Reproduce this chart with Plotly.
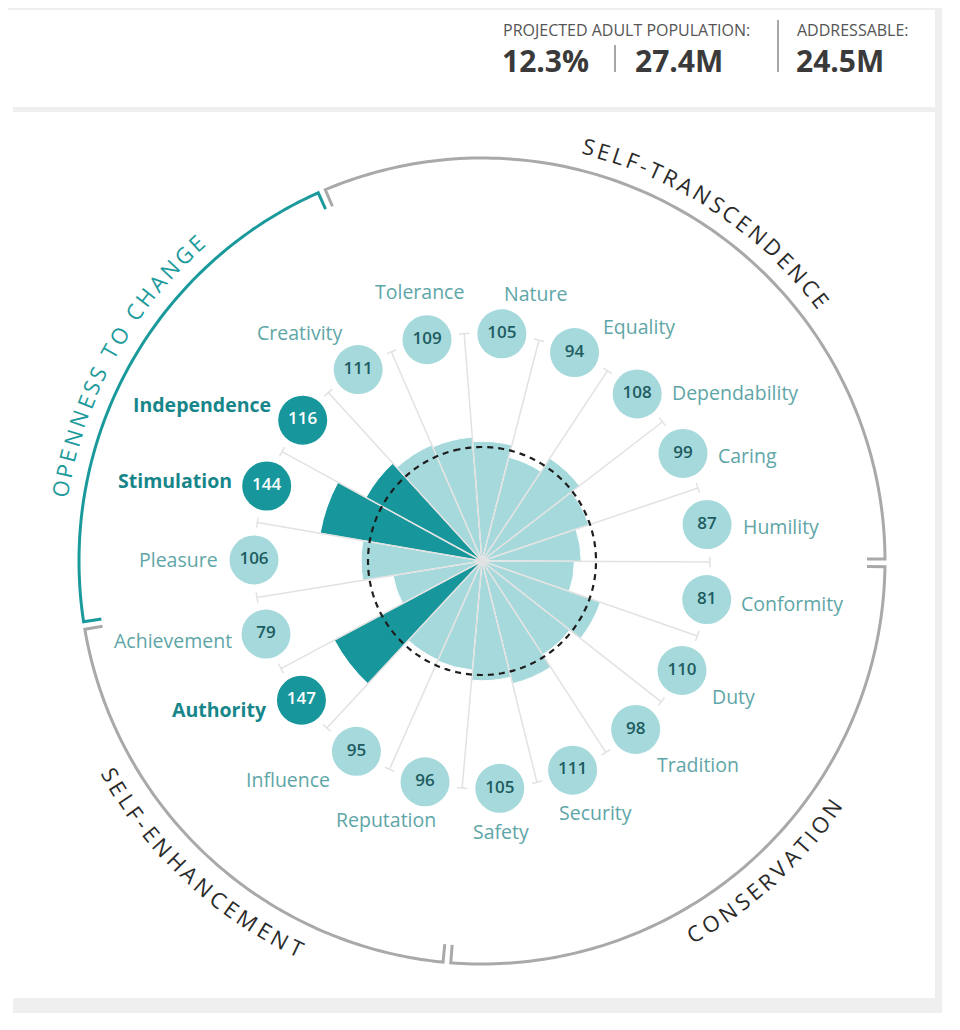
import math
import plotly.graph_objects as go

# values, clockwise starting at Tolerance
categories = ["Tolerance", "Nature", "Equality", "Dependability", "Caring", "Humility",
              "Conformity", "Duty", "Tradition", "Security", "Safety",
              "Reputation", "Influence", "Authority", "Achievement",
              "Pleasure", "Stimulation", "Independence", "Creativity"]
scores = [109, 105, 94, 108, 99, 87, 81, 110, 98, 111, 105, 96, 95, 147, 79, 106, 144, 116, 111]
highlighted = ["Authority", "Stimulation", "Independence"]
group_names = ["SELF-TRANSCENDENCE", "CONSERVATION", "SELF-ENHANCEMENT", "OPENNESS TO CHANGE"]
group_sizes = [6, 5, 4, 4]
accent_group = "OPENNESS TO CHANGE"
baseline = 100
stat_labels = ["PROJECTED ADULT POPULATION:", "ADDRESSABLE:"]
stat_values = ["12.3%", "27.4M", "24.5M"]

# colours
LIGHT = "#a6d9dc"
DARK = "#17979b"
ACCENT = "#1b9a9c"
ARC_GRAY = "#a9a9a9"

# geometry (pixels); the page body adds an 8px margin, so the figure is 16px smaller
OFF = 8
W, H = 960 - 2 * OFF, 1030 - 2 * OFF
CX, CY = 482 - OFF, 561 - OFF
RPX = 440
PX = 1.14                 # pixels per score point
RMAX = RPX / PX
n = len(categories)
step = 360 / n
START = -13.95            # screen angle of the first category, clockwise from north
R_BUBBLE = 200
R_ARC = 403 / PX
R_TICK = R_ARC - 18 / PX
R_TEXT = 428 / PX

# where each label sits next to its bubble: (anchor, dx, dy) in px
label_place = {
    "Tolerance": ("center", -8, -48), "Nature": ("left", 0, -40), "Equality": ("left", 26, -26),
    "Dependability": ("left", 33, -1), "Caring": ("left", 33, 2), "Humility": ("left", 34, 2),
    "Conformity": ("left", 32, 4), "Duty": ("left", 28, 26), "Tradition": ("left", 19, 35),
    "Security": ("center", 23, 42), "Safety": ("center", 1, 43), "Reputation": ("right", 13, 38),
    "Influence": ("right", -24, 28), "Authority": ("right", -32, 9), "Achievement": ("right", -32, 6),
    "Pleasure": ("right", -34, 0), "Stimulation": ("right", -33, -5), "Independence": ("right", -30, -16),
    "Creativity": ("right", -13, -37),
}

# rough advance widths (em) for placing letters along the arcs
char_w = {"A": .63, "B": .65, "C": .63, "D": .74, "E": .56, "F": .52, "G": .72, "H": .75,
          "I": .29, "L": .53, "M": .9, "N": .77, "O": .78, "P": .6, "R": .62, "S": .55,
          "T": .56, "V": .6, "-": .32, " ": .26}


def xy(r, ang):
    a = math.radians(ang)
    return r * math.sin(a), r * math.cos(a)


thetas = [i * step for i in range(n)]
is_hi = [c in highlighted for c in categories]

fig = go.Figure()

# bars
fig.add_trace(go.Barpolar(
    r=scores, theta=thetas, width=[step] * n,
    marker=dict(color=[DARK if h else LIGHT for h in is_hi], line=dict(color="white", width=1)),
    hoverinfo="skip", showlegend=False))

# spokes between categories, capped with a short tick
sr, st = [], []
for i in range(n):
    t = (i + 0.5) * step
    sr += [0, R_BUBBLE, None, R_BUBBLE, R_BUBBLE, None]
    st += [t, t, None, t - 1.3, t + 1.3, None]
fig.add_trace(go.Scatterpolar(r=sr, theta=st, mode="lines",
                              line=dict(color="#e2e2e2", width=1.5),
                              hoverinfo="skip", showlegend=False))

# baseline circle
circ = [k for k in range(0, 361)]
fig.add_trace(go.Scatterpolar(r=[baseline] * len(circ), theta=circ, mode="lines",
                              line=dict(color="#1e1e1e", width=2.2, dash="6px,5px"),
                              hoverinfo="skip", showlegend=False))

# bubbles with values
fig.add_trace(go.Scatterpolar(
    r=[R_BUBBLE] * n, theta=thetas, mode="markers+text",
    marker=dict(size=49, color=[DARK if h else LIGHT for h in is_hi], line=dict(width=0)),
    text=[str(v) for v in scores], textposition="middle center",
    textfont=dict(family="Open Sans", size=17, weight=600,
                  color=["white" if h else "#1d5c60" for h in is_hi]),
    hoverinfo="skip", showlegend=False))

# outer group arcs
gap = 0.55
s = 0
group_span = []
for name, size in zip(group_names, group_sizes):
    a0 = (s - 0.5) * step + gap
    a1 = (s + size - 0.5) * step - gap
    group_span.append((a0, a1))
    k = 120
    arc_t = [a0 + (a1 - a0) * j / k for j in range(k + 1)]
    fig.add_trace(go.Scatterpolar(
        r=[R_TICK] + [R_ARC] * len(arc_t) + [R_TICK],
        theta=[a0] + arc_t + [a1], mode="lines",
        line=dict(color=ACCENT if name == accent_group else ARC_GRAY, width=3),
        hoverinfo="skip", showlegend=False))
    s += size

# empty trace so the overlay axes exist
fig.add_trace(go.Scatter(x=[], y=[], xaxis="x", yaxis="y", hoverinfo="skip", showlegend=False))

annotations = []

# category labels
for c, t, h in zip(categories, thetas, is_hi):
    anchor, dx, dy = label_place[c]
    x, y = xy(R_BUBBLE, START + t)
    annotations.append(dict(
        x=x, y=y, xref="x", yref="y", text=c, showarrow=False,
        xanchor=anchor, yanchor="middle", xshift=dx, yshift=-dy,
        font=dict(family="Open Sans", size=19.5, color="#17868a" if h else "#5ea6a7",
                  weight=700 if h else 400)))

# curved group titles, one letter at a time
FS = 22
TRACK = 3.4
r_px = R_TEXT * PX
for name, (a0, a1) in zip(group_names, group_span):
    mid = START + (a0 + a1) / 2
    widths = [char_w.get(ch, .6) * FS + TRACK for ch in name]
    total = sum(widths) - TRACK
    span = math.degrees(total / r_px)
    top = math.cos(math.radians(mid)) > 0
    pos = 0
    for ch, w in zip(name, widths):
        centre = pos + (w - TRACK) / 2
        pos += w
        if ch == " ":
            continue
        off = math.degrees(centre / r_px)
        ang = mid - span / 2 + off if top else mid + span / 2 - off
        x, y = xy(R_TEXT, ang)
        annotations.append(dict(
            x=x, y=y, xref="x", yref="y", text=ch, showarrow=False,
            xanchor="center", yanchor="middle", textangle=ang if top else ang - 180,
            font=dict(family="Open Sans", size=FS, weight=400,
                      color=ACCENT if name == accent_group else "#2a2a2a")))


# header stats, positions in reference pixels
def px_note(text, x, y, size, color, weight=400):
    return dict(x=(x - OFF) / W, y=1 - (y - OFF) / H, xref="paper", yref="paper",
                text=text, showarrow=False, xanchor="left", yanchor="middle",
                font=dict(family="Open Sans", size=size, color=color, weight=weight))


annotations += [
    px_note(stat_labels[0], 501, 30, 16, "#555555"),
    px_note(stat_values[0], 500, 60, 30, "#3a3a3a", 700),
    px_note(stat_values[1], 633, 60, 30, "#3a3a3a", 700),
    px_note(stat_labels[1], 795, 30, 16, "#555555"),
    px_note(stat_values[2], 794, 60, 30, "#3a3a3a", 700),
]


def rect(x0, y0, x1, y1, color="#efefef"):
    return dict(type="rect", xref="paper", yref="paper", layer="below",
                x0=(x0 - OFF) / W, x1=(x1 - OFF) / W,
                y0=1 - (y1 - OFF) / H, y1=1 - (y0 - OFF) / H,
                fillcolor=color, line=dict(width=0))


def vline(x, y0, y1):
    return dict(type="line", xref="paper", yref="paper",
                x0=(x - OFF) / W, x1=(x - OFF) / W,
                y0=1 - (y1 - OFF) / H, y1=1 - (y0 - OFF) / H,
                line=dict(color="#8a8a8a", width=1.5))


shapes = [
    rect(8, 8, 942, 10), rect(13, 107, 935, 112), rect(935, 8, 942, 1013), rect(13, 998, 942, 1013),
    vline(615, 45, 72), vline(778, 20, 72),
]

dom_x = [(CX - RPX) / W, (CX + RPX) / W]
dom_y = [(H - CY - RPX) / H, (H - CY + RPX) / H]

fig.update_layout(
    width=W, height=H, margin=dict(l=0, r=0, t=0, b=0),
    paper_bgcolor="white", plot_bgcolor="rgba(0,0,0,0)",
    polar=dict(
        domain=dict(x=dom_x, y=dom_y), bgcolor="rgba(0,0,0,0)",
        radialaxis=dict(range=[0, RMAX], visible=False),
        angularaxis=dict(rotation=90 - START, direction="clockwise", visible=False),
        bargap=0),
    xaxis=dict(domain=dom_x, range=[-RMAX, RMAX], visible=False, fixedrange=True),
    yaxis=dict(domain=dom_y, range=[-RMAX, RMAX], visible=False, fixedrange=True),
    annotations=annotations, shapes=shapes, showlegend=False)

fig.write_html("out.html")
